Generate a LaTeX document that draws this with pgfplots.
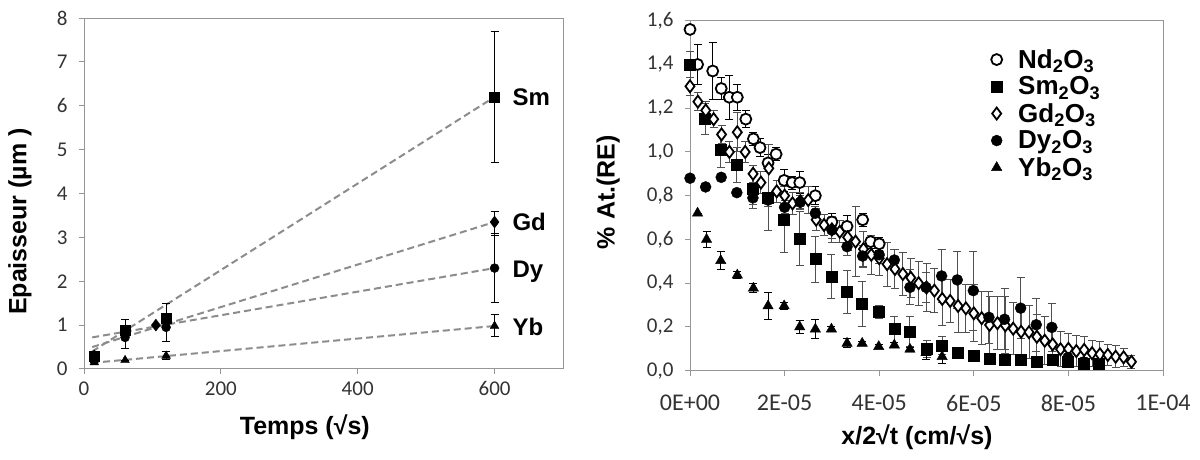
\documentclass[border=0pt]{standalone}
\usepackage{fontspec}
\setmainfont{Carlito}
\newfontfamily\arial{Liberation Sans}
\usepackage{pgfplots}
\usepackage{pgfplotstable}
\pgfplotsset{compat=1.18}

% ---------- left chart data ----------
\pgfplotstableread{
x y ep em
15 0.30 0 0
60 0.89 0.24 0.43
120 1.16 0.34 0.54
600 6.20 1.50 1.50
}\tblSm
\pgfplotstableread{
x y ep em
15 0.30 0 0
105 1.00 0 0
600 3.35 0.25 0.30
}\tblGdL
\pgfplotstableread{
x y ep em
15 0.25 0 0
60 0.72 0 0
120 0.95 0 0
600 2.30 0.78 0.78
}\tblDyL
\pgfplotstableread{
x y ep em
15 0.15 0 0
60 0.20 0 0
120 0.30 0.10 0.08
600 0.98 0.27 0.24
}\tblYbL

% ---------- right chart data (x in 1E-05 cm/sqrt(s)) ----------
\pgfplotstableread{
x y e
0.00 1.56 0.02
0.16 1.40 0.09
0.48 1.37 0.13
0.66 1.29 0.05
0.83 1.25 0.10
1.00 1.25 0.06
1.18 1.15 0.04
1.34 1.06 0.03
1.48 1.02 0.04
1.65 0.95 0.04
1.82 0.99 0.03
1.99 0.87 0.05
2.16 0.86 0.03
2.32 0.86 0.05
2.65 0.80 0.04
3.00 0.68 0.04
3.32 0.66 0.05
3.65 0.69 0.03
3.82 0.59 0.03
4.00 0.58 0.03
}\tblNd
\pgfplotstableread{
x y e
0.00 1.40 0.06
0.32 1.15 0.07
0.65 1.01 0.08
0.99 0.94 0.08
1.33 0.83 0.07
1.65 0.79 0.15
1.99 0.69 0.15
2.32 0.605 0.125
2.65 0.51 0.105
2.99 0.43 0.10
3.32 0.36 0.10
3.64 0.305 0.105
3.99 0.27 0.03
4.32 0.19 0.06
4.65 0.18 0.07
5.00 0.10 0.04
5.33 0.115 0.04
5.66 0.08 0.02
5.99 0.07 0.02
6.33 0.055 0.02
6.65 0.05 0.02
6.99 0.05 0.02
7.32 0.04 0.02
7.66 0.05 0.02
7.98 0.04 0.02
8.32 0.03 0.02
8.65 0.034 0.02
}\tblSmR
\pgfplotstableread{
x y e
0.000 1.30 0.04
0.167 1.23 0.04
0.333 1.19 0.04
0.500 1.15 0.04
0.667 1.08 0.04
0.833 1.00 0.05
1.000 1.09 0.09
1.167 1.00 0.05
1.333 0.90 0.04
1.500 0.86 0.05
1.667 0.925 0.11
1.833 0.82 0.05
2.000 0.80 0.04
2.167 0.765 0.05
2.333 0.775 0.04
2.500 0.78 0.06
2.667 0.69 0.05
2.833 0.666 0.05
3.000 0.646 0.06
3.167 0.635 0.05
3.333 0.61 0.06
3.500 0.59 0.16
3.667 0.556 0.08
3.833 0.53 0.09
4.000 0.514 0.08
4.167 0.487 0.10
4.333 0.465 0.09
4.500 0.442 0.10
4.667 0.425 0.09
4.833 0.40 0.10
5.000 0.38 0.11
5.167 0.366 0.10
5.333 0.328 0.12
5.500 0.319 0.10
5.667 0.296 0.12
5.833 0.285 0.11
6.000 0.262 0.13
6.167 0.24 0.12
6.333 0.209 0.13
6.500 0.217 0.12
6.667 0.207 0.13
6.833 0.192 0.12
7.000 0.178 0.11
7.167 0.176 0.12
7.333 0.155 0.10
7.500 0.137 0.11
7.667 0.12 0.08
7.833 0.098 0.08
8.000 0.10 0.07
8.167 0.09 0.07
8.333 0.095 0.06
8.500 0.08 0.06
8.667 0.075 0.06
8.833 0.072 0.05
9.000 0.064 0.05
9.167 0.061 0.04
9.333 0.041 0.03
}\tblGd
\pgfplotstableread{
x y e
0.00 0.88 0
0.33 0.84 0
0.66 0.884 0
0.99 0.814 0
1.33 0.79 0.05
1.65 0.78 0.03
2.00 0.747 0.03
2.33 0.77 0.03
2.65 0.72 0.03
3.00 0.643 0.04
3.32 0.567 0.04
3.65 0.524 0.05
4.00 0.53 0.04
4.32 0.506 0.05
4.65 0.381 0.08
4.99 0.381 0.07
5.32 0.433 0.12
5.65 0.415 0.13
5.99 0.366 0.18
6.32 0.244 0.12
6.65 0.235 0.14
6.99 0.286 0.14
7.32 0.21 0.12
7.65 0.198 0.11
7.99 0.06 0.03
8.32 0.04 0.02
}\tblDy
\pgfplotstableread{
x y e
0.16 0.72 0
0.35 0.60 0.035
0.65 0.503 0.042
1.00 0.437 0.015
1.34 0.377 0.02
1.65 0.296 0.06
1.99 0.296 0.015
2.32 0.20 0.03
2.65 0.19 0.045
2.99 0.19 0.01
3.32 0.125 0.02
3.64 0.125 0.01
3.99 0.11 0.01
4.32 0.117 0.01
4.65 0.098 0.01
4.99 0.082 0.03
5.33 0.064 0.03
}\tblYb

\definecolor{axgray}{RGB}{150,150,150}
\definecolor{trend}{RGB}{140,140,140}
\definecolor{ebgray}{RGB}{80,80,80}

\pgfplotsset{
  common/.style={
    scale only axis,
    axis line style={axgray, line width=1pt},
    tick style={axgray, line width=1pt},
    major tick length=5pt,
    tick align=outside,
    xtick pos=bottom, ytick pos=left,
    /pgf/number format/assume math mode=true,
    ticklabel style={font=\fontsize{21}{23}\selectfont, text=black!80},
    yticklabel style={xshift=-8pt},
    label style={font=\arial\bfseries\fontsize{25}{27}\selectfont},
  },
  ebar/.style={error bars/.cd, y dir=both, y explicit,
    error bar style={#1, line width=1pt},
    error mark options={rotate=90, mark size=4pt, #1, line width=1pt}},
}

\begin{document}
\begin{tikzpicture}[x=1pt,y=1pt]
\path[use as bounding box] (0,0) rectangle (1200,460);

% ================= LEFT =================
\begin{axis}[common,
  at={(84pt,91pt)}, anchor=south west,
  width=479pt, height=351pt,
  xmin=0, xmax=700, ymin=0, ymax=8,
  xtick={0,200,400,600}, ytick={0,1,...,8},
  xticklabel style={yshift=-4pt},
  xlabel={Temps (√s)},
  ylabel={Epaisseur (µm )},
  xlabel style={at={(axis description cs:0.461,-0.165)}, anchor=center},
  ylabel style={at={(axis description cs:-0.134,0.42)}, anchor=center, rotate=0},
  clip=false,
]
\addplot[trend, line width=2pt, dash pattern=on 7pt off 4pt] coordinates {(12,0.40) (600,6.2)};
\addplot[trend, line width=2pt, dash pattern=on 7pt off 4pt] coordinates {(12,0.50) (600,3.35)};
\addplot[trend, line width=2pt, dash pattern=on 7pt off 4pt] coordinates {(12,0.72) (600,2.3)};
\addplot[trend, line width=2pt, dash pattern=on 7pt off 4pt] coordinates {(12,0.14) (600,0.98)};

\addplot[only marks, mark=square*, mark size=5pt, black, ebar=black]
  table[x=x, y=y, y error plus=ep, y error minus=em] {\tblSm};
\addplot[only marks, mark=diamond*, mark size=6pt, black, ebar=black]
  table[x=x, y=y, y error plus=ep, y error minus=em] {\tblGdL};
\addplot[only marks, mark=*, mark size=4.5pt, black, ebar=black]
  table[x=x, y=y, y error plus=ep, y error minus=em] {\tblDyL};
\addplot[only marks, mark=triangle*, mark size=5pt, black, ebar=black]
  table[x=x, y=y, y error plus=ep, y error minus=em] {\tblYbL};

\node[anchor=west, inner sep=0pt, font=\arial\bfseries\fontsize{24}{26}\selectfont] at (axis cs:626,6.2) {Sm};
\node[anchor=west, inner sep=0pt, font=\arial\bfseries\fontsize{24}{26}\selectfont] at (axis cs:626,3.36) {Gd};
\node[anchor=west, inner sep=0pt, font=\arial\bfseries\fontsize{24}{26}\selectfont] at (axis cs:626,2.22) {Dy};
\node[anchor=west, inner sep=0pt, font=\arial\bfseries\fontsize{24}{26}\selectfont] at (axis cs:626,0.96) {Yb};
\end{axis}

% ================= RIGHT =================
\begin{axis}[common,
  at={(690pt,89.3pt)}, anchor=south west,
  width=473pt, height=350pt,
  xmin=0, xmax=10, ymin=0, ymax=1.6,
  xtick={0,2,4,6,8,10},
  xticklabels={0E+00,2E-05,4E-05,6E-05,8E-05,1E-04},
  xticklabel style={font=\fontsize{24}{26}\selectfont, yshift=-16pt},
  ytick={0,0.2,...,1.6},
  yticklabel style={/pgf/number format/.cd, fixed, fixed zerofill, precision=1, use comma},
  xlabel={x/2√t (cm/√s)},
  ylabel={\% At.(RE)},
  xlabel style={at={(axis description cs:0.48,-0.19)}, anchor=center},
  ylabel style={at={(axis description cs:-0.173,0.51)}, anchor=center},
  legend style={draw=none, fill=none, at={(0.63,0.93)}, anchor=north west,
    font=\arial\bfseries\fontsize{26}{28}\selectfont, row sep=3pt},
  legend cell align=left,
  clip=false,
]
\addplot[only marks, mark=*, mark size=5.5pt, mark options={fill=white, draw=black, line width=1.8pt}, ebar=black]
  table[x=x, y=y, y error=e] {\tblNd};
\addlegendentry{\hspace{14pt}Nd\textsubscript{2}O\textsubscript{3}}
\addplot[only marks, mark=square*, mark size=5.5pt, black, ebar=ebgray]
  table[x=x, y=y, y error=e] {\tblSmR};
\addlegendentry{\hspace{14pt}Sm\textsubscript{2}O\textsubscript{3}}
\addplot[only marks, mark=diamond*, mark size=6pt, mark options={fill=white, draw=black, line width=1.8pt}, ebar=ebgray]
  table[x=x, y=y, y error=e] {\tblGd};
\addlegendentry{\hspace{14pt}Gd\textsubscript{2}O\textsubscript{3}}
\addplot[only marks, mark=*, mark size=5.5pt, black, ebar=ebgray]
  table[x=x, y=y, y error=e] {\tblDy};
\addlegendentry{\hspace{14pt}Dy\textsubscript{2}O\textsubscript{3}}
\addplot[only marks, mark=triangle*, mark size=6pt, black, ebar=black]
  table[x=x, y=y, y error=e] {\tblYb};
\addlegendentry{\hspace{14pt}Yb\textsubscript{2}O\textsubscript{3}}
\end{axis}
\end{tikzpicture}
\end{document}
